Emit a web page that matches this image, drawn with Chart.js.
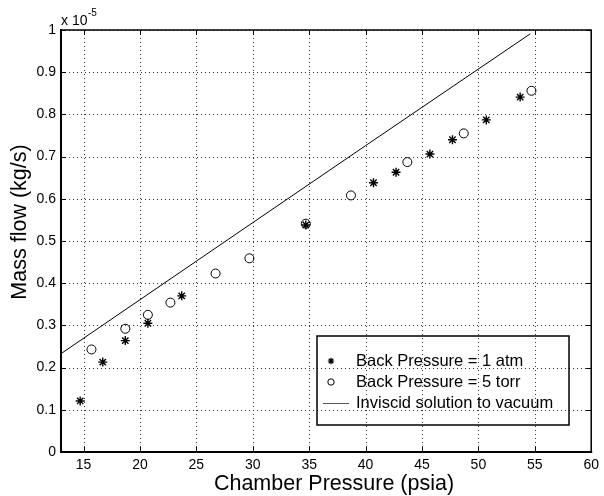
<!DOCTYPE html>
<html>
<head>
<meta charset="utf-8">
<script src="https://cdn.jsdelivr.net/npm/chart.js@4"></script>
<style>
  html, body { margin: 0; padding: 0; background: #fff; }
  #wrap { width: 604px; height: 496px; }
</style>
</head>
<body>
<div id="wrap"><canvas id="c" width="604" height="496"></canvas></div>
<script>
// chamber pressure (psia) and mass flow (x 1e-5 kg/s)
const atmX = [14.7, 16.7, 18.7, 20.7, 23.7, 34.7, 40.7, 42.7, 45.7, 47.7, 50.7, 53.7];
const atmY = [0.121, 0.213, 0.264, 0.305, 0.370, 0.538, 0.638, 0.663, 0.706, 0.740, 0.787, 0.841];

const torrX = [15.7, 18.7, 20.7, 22.7, 26.7, 29.7, 34.7, 38.7, 43.7, 48.7, 54.7];
const torrY = [0.243, 0.292, 0.325, 0.354, 0.423, 0.459, 0.541, 0.608, 0.687, 0.755, 0.856];

const invX = [13, 26.3, 40, 54.6];
const invY = [0.233, 0.476, 0.726, 0.991];

const xTicks = [15, 20, 25, 30, 35, 40, 45, 50, 55, 60];
const yTicks = [0, 0.1, 0.2, 0.3, 0.4, 0.5, 0.6, 0.7, 0.8, 0.9, 1];

const labels = ["Back Pressure = 1 atm", "Back Pressure = 5 torr", "Inviscid solution to vacuum"];

const FONT = "'Liberation Sans', Arial, Helvetica, sans-serif";

const toPts = (xs, ys) => xs.map((x, i) => ({ x, y: ys[i] }));

// dotted grid under the data
const dotGrid = {
  id: "dotGrid",
  beforeDatasetsDraw(chart) {
    const ctx = chart.ctx;
    const { left, right, top, bottom } = chart.chartArea;
    const xs = chart.scales.x, ys = chart.scales.y;
    ctx.save();
    ctx.strokeStyle = "#333";
    ctx.lineWidth = 1;
    ctx.setLineDash([1, 3]);
    ctx.beginPath();
    xTicks.forEach(v => {
      const px = Math.round(xs.getPixelForValue(v)) + 0.5;
      ctx.moveTo(px, top); ctx.lineTo(px, bottom);
    });
    yTicks.forEach(v => {
      const py = Math.round(ys.getPixelForValue(v)) + 0.5;
      ctx.moveTo(left, py); ctx.lineTo(right, py);
    });
    ctx.stroke();
    ctx.restore();
  }
};

// frame, inward ticks, titles, exponent and legend
const decor = {
  id: "decor",
  afterDraw(chart) {
    const ctx = chart.ctx;
    const { left, right, top, bottom } = chart.chartArea;
    const xs = chart.scales.x, ys = chart.scales.y;
    ctx.save();
    ctx.strokeStyle = "#000";

    // ticks pointing inward on all four sides
    ctx.lineWidth = 1;
    ctx.beginPath();
    xTicks.forEach(v => {
      const px = Math.round(xs.getPixelForValue(v)) + 0.5;
      ctx.moveTo(px, bottom); ctx.lineTo(px, bottom - 5);
      ctx.moveTo(px, top); ctx.lineTo(px, top + 5);
    });
    yTicks.forEach(v => {
      const py = Math.round(ys.getPixelForValue(v)) + 0.5;
      ctx.moveTo(left, py); ctx.lineTo(left + 5, py);
      ctx.moveTo(right, py); ctx.lineTo(right - 5, py);
    });
    ctx.stroke();

    // box
    ctx.lineWidth = 1.5;
    ctx.beginPath();
    ctx.moveTo(left, top); ctx.lineTo(right, top); ctx.lineTo(right, bottom);
    ctx.stroke();
    ctx.lineWidth = 2;
    ctx.beginPath();
    ctx.moveTo(left, top - 1); ctx.lineTo(left, bottom); ctx.lineTo(right + 1, bottom);
    ctx.stroke();

    ctx.fillStyle = "#000";
    // x title
    ctx.font = "21.5px " + FONT;
    ctx.textAlign = "center";
    ctx.textBaseline = "middle";
    ctx.fillText("Chamber Pressure (psia)", 334, 484);
    // y title
    ctx.save();
    ctx.translate(20, 222);
    ctx.rotate(-Math.PI / 2);
    ctx.fillText("Mass flow (kg/s)", 0, 0);
    ctx.restore();

    // exponent
    ctx.textAlign = "left";
    ctx.textBaseline = "alphabetic";
    ctx.font = "14px " + FONT;
    ctx.fillText("x 10", 61, 25);
    ctx.font = "10px " + FONT;
    ctx.fillText("-5", 88, 16);

    // legend
    const lx = 317, ly = 336, lw = 252, lh = 89;
    ctx.lineWidth = 1.5;
    ctx.strokeRect(lx, ly, lw, lh);
    const rows = [361, 382, 403];
    ctx.font = "16.5px " + FONT;
    ctx.textBaseline = "middle";
    rows.forEach((ry, i) => ctx.fillText(labels[i], 356, ry));
    // markers
    ctx.lineWidth = 1.2;
    const sx = 331, r = 3.2;
    ctx.beginPath();
    for (let k = 0; k < 4; k++) {
      const a = k * Math.PI / 4;
      ctx.moveTo(sx - r * Math.cos(a), rows[0] - r * Math.sin(a));
      ctx.lineTo(sx + r * Math.cos(a), rows[0] + r * Math.sin(a));
    }
    ctx.stroke();
    ctx.lineWidth = 1;
    ctx.beginPath();
    ctx.arc(sx, rows[1], 3.2, 0, Math.PI * 2);
    ctx.stroke();
    ctx.strokeStyle = "#555";
    ctx.beginPath();
    ctx.moveTo(323, rows[2] + 0.5); ctx.lineTo(349, rows[2] + 0.5);
    ctx.stroke();
    ctx.restore();
  }
};

new Chart(document.getElementById("c"), {
  type: "scatter",
  data: {
    datasets: [
      {
        label: labels[0],
        data: toPts(atmX, atmY),
        pointStyle: "star",
        pointRadius: 4.5,
        borderColor: "#000",
        backgroundColor: "#000",
        borderWidth: 1.4
      },
      {
        label: labels[1],
        data: toPts(torrX, torrY),
        pointStyle: "circle",
        pointRadius: 4.5,
        borderColor: "#000",
        backgroundColor: "rgba(0,0,0,0)",
        borderWidth: 1
      },
      {
        label: labels[2],
        data: toPts(invX, invY),
        showLine: true,
        pointRadius: 0,
        borderColor: "#000",
        borderWidth: 1,
        tension: 0
      }
    ]
  },
  options: {
    responsive: false,
    animation: false,
    events: [],
    layout: { padding: { left: 0, top: 30, right: 7, bottom: 0 } },
    plugins: { legend: { display: false }, tooltip: { enabled: false } },
    scales: {
      x: {
        type: "linear",
        min: 13,
        max: 60,
        afterBuildTicks: s => { s.ticks = xTicks.map(v => ({ value: v })); },
        afterFit: s => { s.height = 44; },
        grid: { display: false, drawTicks: false },
        border: { display: false },
        ticks: { color: "#000", font: { family: FONT, size: 14 }, padding: 5, maxRotation: 0 }
      },
      y: {
        type: "linear",
        min: 0,
        max: 1,
        afterBuildTicks: s => { s.ticks = yTicks.map(v => ({ value: v })); },
        afterFit: s => { s.width = 61; },
        grid: { display: false, drawTicks: false },
        border: { display: false },
        ticks: {
          color: "#000",
          font: { family: FONT, size: 14 },
          padding: 5,
          callback: v => String(Number(v.toFixed(1)))
        }
      }
    }
  },
  plugins: [dotGrid, decor]
});
</script>
</body>
</html>
